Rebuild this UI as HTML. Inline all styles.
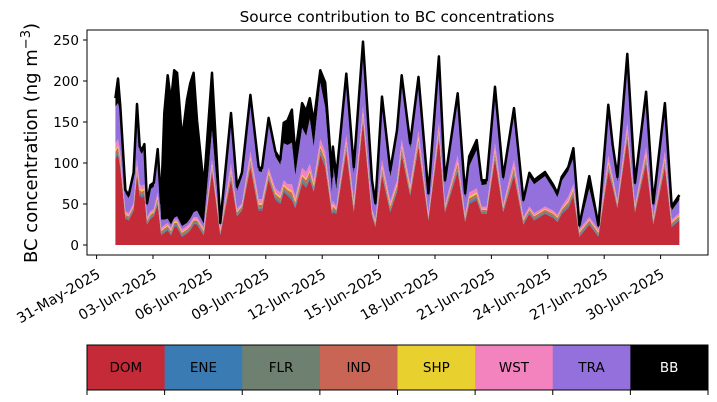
<!DOCTYPE html>
<html><head><meta charset="utf-8"><style>
body{margin:0;background:#fff}
svg{display:block;font-family:"DejaVu Sans","Liberation Sans",sans-serif}
</style></head><body>
<svg id="chart" width="717" height="402" viewBox="0 0 717 402">
<text x="397" y="22" font-size="15.3" text-anchor="middle">Source contribution to BC concentrations</text>
<text transform="translate(37,143) rotate(-90)" font-size="18" text-anchor="middle">BC concentration (ng m<tspan dy="-7" font-size="13">−3</tspan><tspan dy="7">)</tspan></text>
<g id="layers"></g>
<g id="yaxis"></g>
<g id="xaxis"></g>
<rect x="87" y="30" width="621" height="225" fill="none" stroke="#000" stroke-width="1"/>
<g id="legend"></g>
</svg>
<script>
const days=[1.0,1.14,1.26,1.53,1.71,1.97,2.15,2.29,2.41,2.54,2.68,2.86,3.04,3.25,3.43,3.60,3.78,3.96,4.13,4.28,4.54,4.81,4.98,5.16,5.34,5.70,6.14,6.58,7.15,7.47,7.73,8.18,8.62,8.80,9.15,9.51,9.77,9.95,10.16,10.39,10.57,10.93,11.15,11.34,11.55,11.90,12.16,12.52,12.57,12.75,13.28,13.68,14.17,14.65,14.83,15.18,15.62,15.98,16.23,16.68,17.12,17.65,18.21,18.53,19.21,19.60,19.82,20.22,20.48,20.75,21.19,21.63,22.20,22.70,23.02,23.27,23.50,23.85,24.29,24.51,24.74,25.09,25.36,25.68,26.21,26.69,27.22,27.45,27.70,28.23,28.64,29.23,29.61,30.23,30.59,31.0];
const DOM=[105,110,95,32,30,42,85,60,58,60,25,32,35,50,12,15,18,12,22,22,10,14,18,25,25,12,90,12,80,35,42,95,42,42,80,55,50,65,60,55,45,75,70,80,65,110,95,38,40,38,115,40,150,35,22,85,40,65,110,60,120,30,130,40,90,28,50,55,38,38,105,40,85,25,38,30,33,38,33,28,38,45,60,10,25,10,90,70,45,130,40,100,25,95,22,30];
const ENE=[2,2,2,1,1,1,2,2,2,2,1,1,1,2,1,1,1,1,1,1,1,1,1,1,1,1,2,1,2,1,1,2,2,2,2,2,2,2,2,2,2,2,2,2,2,2,2,1,2,1,2,2,2,1,1,2,2,2,2,2,2,1,2,1,2,1,2,2,1,1,2,1,2,1,1,1,1,1,1,1,1,2,2,1,1,1,2,2,1,2,1,2,1,2,1,1];
const FLR=[3,3,3,2,2,2,3,2,2,2,2,2,2,2,2,2,2,2,2,2,2,2,2,2,2,2,2,2,3,2,2,3,2,2,2,2,2,2,2,3,2,3,3,3,2,3,3,2,2,2,3,2,3,2,2,3,2,2,3,2,3,2,3,2,3,2,2,2,2,2,3,2,3,2,2,2,2,2,2,2,2,2,2,2,2,2,3,2,2,3,2,3,2,3,2,2];
const IND=[4,4,4,2,2,2,4,3,3,3,2,2,2,3,2,2,2,2,2,2,2,2,2,2,2,2,3,2,4,2,2,4,3,3,3,3,3,3,3,4,3,4,4,4,3,4,4,2,3,2,4,3,4,2,2,4,3,3,4,3,4,2,4,2,4,2,3,3,2,2,4,2,4,2,2,2,2,2,2,2,2,3,3,2,2,2,4,3,2,4,2,4,2,4,2,2];
const SHP=[2,2,2,1,1,1,2,2,2,2,1,1,1,2,1,1,1,1,1,1,1,1,1,1,1,1,2,1,2,1,1,2,2,2,2,2,2,2,2,2,2,2,2,2,2,2,2,1,2,1,2,2,2,1,1,2,2,2,2,2,2,1,2,1,2,1,2,2,1,1,2,1,2,1,1,1,1,1,1,1,1,2,2,1,1,1,2,2,1,2,1,2,1,2,1,1];
const WST=[8,8,8,3,3,3,8,5,5,5,3,3,3,5,3,3,3,3,3,3,3,3,3,3,3,3,5,3,8,3,3,8,5,5,5,5,5,5,5,8,5,8,8,8,5,8,8,3,5,3,8,5,8,3,3,8,5,5,8,5,8,3,8,3,8,3,5,5,3,3,8,3,8,3,3,3,3,3,3,3,3,5,5,3,3,3,8,5,3,8,3,8,3,8,3,3];
const TRA=[45,44,47,22,18,33,63,41,39,44,13,27,27,48,10,7,5,4,2,4,4,4,5,6,8,5,36,2,57,22,32,64,34,33,56,39,34,45,48,51,26,49,44,55,41,69,54,16,46,21,65,33,71,29,16,69,29,53,72,44,58,20,75,25,70,20,32,47,26,27,63,29,57,17,36,35,36,37,26,21,31,31,32,1,35,1,54,32,23,78,22,62,12,53,11,16];
const BB=[10,30,8,4,4,4,5,5,5,5,4,5,5,5,20,130,175,150,180,175,105,150,165,170,110,45,70,4,5,5,5,5,5,5,5,6,6,25,30,40,25,30,30,25,30,15,30,20,20,15,10,8,8,6,4,8,8,8,6,6,8,4,6,5,6,6,12,12,6,5,6,5,6,4,5,5,5,5,5,5,5,5,12,4,15,4,8,6,6,6,5,6,5,6,5,6];
const sourceNames=["DOM","ENE","FLR","IND","SHP","WST","TRA","BB"];
const sourceColors=["#c42a37","#3a7bb4","#6e8070","#c96555","#e8d02f","#f283bf","#9370db","#000000"];
const yTicks=[0,50,100,150,200,250];
const xTickDays=[0,3,6,9,12,15,18,21,24,27,30];
const xTickLabels=["31-May-2025","03-Jun-2025","06-Jun-2025","09-Jun-2025","12-Jun-2025","15-Jun-2025","18-Jun-2025","21-Jun-2025","24-Jun-2025","27-Jun-2025","30-Jun-2025"];

const NS="http://www.w3.org/2000/svg";
function xs(d){return 153+(d-3)*18.8;}
function ys(v){return 245-v*0.82;}
const series=[DOM,ENE,FLR,IND,SHP,WST,TRA,BB];
const layers=document.getElementById('layers');
let base=days.map(()=>0);
series.forEach((s,k)=>{
  const top=base.map((b,i)=>b+s[i]);
  let d="M"+days.map((t,i)=>xs(t).toFixed(1)+","+ys(top[i]).toFixed(1)).join("L");
  for(let i=days.length-1;i>=0;i--)d+="L"+xs(days[i]).toFixed(1)+","+ys(base[i]).toFixed(1);
  d+="Z";
  const p=document.createElementNS(NS,'path');
  p.setAttribute('d',d);p.setAttribute('fill',sourceColors[k]);
  
  
  layers.appendChild(p);
  base=top;
});
const line=document.createElementNS(NS,'path');
line.setAttribute('d',"M"+days.map((t,i)=>xs(t).toFixed(1)+","+ys(base[i]).toFixed(1)).join("L"));
line.setAttribute('fill','none');line.setAttribute('stroke','#000');line.setAttribute('stroke-width','2.5');line.setAttribute('stroke-linejoin','round');


layers.appendChild(line);

const ya=document.getElementById('yaxis');
yTicks.forEach(v=>{
  const l=document.createElementNS(NS,'line');
  l.setAttribute('x1',83);l.setAttribute('x2',87);l.setAttribute('y1',ys(v));l.setAttribute('y2',ys(v));l.setAttribute('stroke','#000');
  
  
  ya.appendChild(l);
  const t=document.createElementNS(NS,'text');
  t.setAttribute('x',79);t.setAttribute('y',ys(v)+5);t.setAttribute('text-anchor','end');t.setAttribute('font-size','13.5');
  t.textContent=v;
  
  
  ya.appendChild(t);
});
const xa=document.getElementById('xaxis');
xTickDays.forEach((d,i)=>{
  const x=xs(d);
  const l=document.createElementNS(NS,'line');
  l.setAttribute('x1',x);l.setAttribute('x2',x);l.setAttribute('y1',255);l.setAttribute('y2',259);l.setAttribute('stroke','#000');
  
  
  xa.appendChild(l);
  const t=document.createElementNS(NS,'text');
  t.setAttribute('transform','translate('+(x-1)+',267) rotate(-30)');
  t.setAttribute('text-anchor','end');t.setAttribute('font-size','14.2');t.setAttribute('dy','0.8em');
  t.textContent=xTickLabels[i];
  
  
  xa.appendChild(t);
});
const lg=document.getElementById('legend');
const w=621/8;
sourceNames.forEach((n,i)=>{
  const r=document.createElementNS(NS,'rect');
  r.setAttribute('x',87+i*w);r.setAttribute('y',345);r.setAttribute('width',w+0.5);r.setAttribute('height',45);r.setAttribute('fill',sourceColors[i]);
  
  
  lg.appendChild(r);
  const t=document.createElementNS(NS,'text');
  t.setAttribute('x',87+i*w+w/2);t.setAttribute('y',372);t.setAttribute('text-anchor','middle');t.setAttribute('font-size','13.5');
  t.setAttribute('fill',n==="BB"?"#fff":"#000");
  t.textContent=n;
  
  
  lg.appendChild(t);
});
for(let i=0;i<=8;i++){
  const l=document.createElementNS(NS,'line');
  l.setAttribute('x1',87+i*w);l.setAttribute('x2',87+i*w);l.setAttribute('y1',390);l.setAttribute('y2',395);l.setAttribute('stroke','#000');
  
  
  lg.appendChild(l);
}
const fr=document.createElementNS(NS,'rect');
fr.setAttribute('x',87);fr.setAttribute('y',345);fr.setAttribute('width',621);fr.setAttribute('height',45);fr.setAttribute('fill','none');fr.setAttribute('stroke','#000');


lg.appendChild(fr);
</script>
</body></html>
